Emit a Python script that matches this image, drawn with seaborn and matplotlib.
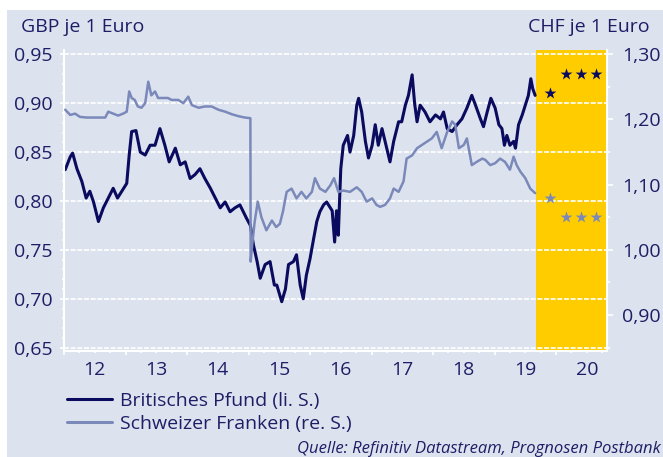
import matplotlib
matplotlib.use("Agg")
import matplotlib.pyplot as plt
from matplotlib.patches import Rectangle
from matplotlib.ticker import FixedLocator, FuncFormatter
import seaborn as sns

# GBP per 1 Euro (left axis), decimal years
gbp_t = [2012.02, 2012.10, 2012.14, 2012.21, 2012.29, 2012.36, 2012.42, 2012.48, 2012.56,
         2012.64, 2012.72, 2012.80, 2012.87, 2012.94, 2013.02, 2013.06, 2013.10, 2013.17,
         2013.24, 2013.32, 2013.40, 2013.48, 2013.56, 2013.64, 2013.71, 2013.81, 2013.89,
         2013.97, 2014.05, 2014.13, 2014.21, 2014.29, 2014.38, 2014.46, 2014.54, 2014.62,
         2014.70, 2014.78, 2014.86, 2014.97, 2015.03, 2015.08, 2015.14, 2015.19, 2015.27,
         2015.35, 2015.42, 2015.46, 2015.54, 2015.60, 2015.65, 2015.73, 2015.78, 2015.84,
         2015.89, 2015.94, 2016.00, 2016.06, 2016.11, 2016.16, 2016.22, 2016.27, 2016.33,
         2016.36, 2016.40, 2016.43, 2016.46, 2016.48, 2016.50, 2016.54, 2016.61, 2016.65,
         2016.71, 2016.76, 2016.79, 2016.84, 2016.90, 2016.95, 2017.01, 2017.06, 2017.11,
         2017.17, 2017.22, 2017.30, 2017.36, 2017.44, 2017.49, 2017.55, 2017.60, 2017.66,
         2017.70, 2017.74, 2017.79, 2017.87, 2017.95, 2018.04, 2018.12, 2018.17, 2018.23,
         2018.31, 2018.39, 2018.47, 2018.55, 2018.63, 2018.69, 2018.77, 2018.82, 2018.88,
         2018.94, 2019.01, 2019.07, 2019.12, 2019.16, 2019.20, 2019.25, 2019.31, 2019.34,
         2019.39, 2019.45, 2019.50, 2019.55, 2019.59, 2019.62, 2019.66]
gbp_v = [0.832, 0.845, 0.849, 0.833, 0.820, 0.803, 0.810, 0.799, 0.779,
         0.793, 0.803, 0.813, 0.803, 0.810, 0.818, 0.847, 0.871, 0.872,
         0.850, 0.847, 0.857, 0.857, 0.874, 0.857, 0.840, 0.854, 0.837,
         0.840, 0.823, 0.827, 0.833, 0.823, 0.813, 0.803, 0.793, 0.799,
         0.789, 0.793, 0.796, 0.782, 0.775, 0.755, 0.738, 0.721, 0.735,
         0.738, 0.714, 0.714, 0.697, 0.710, 0.735, 0.738, 0.745, 0.714,
         0.700, 0.724, 0.741, 0.762, 0.779, 0.789, 0.796, 0.799, 0.793,
         0.790, 0.758, 0.790, 0.765, 0.800, 0.833, 0.857, 0.867, 0.850,
         0.867, 0.898, 0.905, 0.891, 0.861, 0.844, 0.857, 0.878, 0.857,
         0.874, 0.861, 0.840, 0.861, 0.881, 0.881, 0.898, 0.908, 0.929,
         0.900, 0.881, 0.898, 0.891, 0.881, 0.888, 0.884, 0.891, 0.874,
         0.871, 0.878, 0.884, 0.895, 0.908, 0.898, 0.884, 0.876, 0.891,
         0.905, 0.895, 0.878, 0.874, 0.857, 0.867, 0.857, 0.861, 0.854,
         0.878, 0.888, 0.898, 0.908, 0.925, 0.915, 0.908]

# CHF per 1 Euro (right axis)
chf_t = [2012.02, 2012.10, 2012.18, 2012.26, 2012.37, 2012.50, 2012.67, 2012.72, 2012.80,
         2012.88, 2012.96, 2013.02, 2013.06, 2013.10, 2013.15, 2013.20, 2013.26, 2013.32,
         2013.37, 2013.42, 2013.48, 2013.53, 2013.61, 2013.69, 2013.75, 2013.86, 2013.94,
         2014.02, 2014.08, 2014.19, 2014.29, 2014.40, 2014.51, 2014.62, 2014.73, 2014.84,
         2014.94, 2015.03, 2015.035, 2015.06, 2015.10, 2015.15, 2015.21, 2015.29, 2015.38,
         2015.45, 2015.51, 2015.56, 2015.62, 2015.70, 2015.78, 2015.86, 2015.94, 2016.03,
         2016.08, 2016.16, 2016.25, 2016.33, 2016.39, 2016.46, 2016.54, 2016.65, 2016.76,
         2016.84, 2016.92, 2017.01, 2017.08, 2017.14, 2017.22, 2017.30, 2017.36, 2017.44,
         2017.52, 2017.57, 2017.66, 2017.74, 2017.82, 2017.90, 2017.98, 2018.06, 2018.14,
         2018.23, 2018.31, 2018.36, 2018.42, 2018.50, 2018.55, 2018.63, 2018.71, 2018.80,
         2018.85, 2018.93, 2019.01, 2019.09, 2019.17, 2019.25, 2019.31, 2019.36, 2019.42,
         2019.50, 2019.58, 2019.66]
chf_v = [1.215, 1.207, 1.209, 1.204, 1.203, 1.203, 1.203, 1.212, 1.209,
         1.206, 1.209, 1.212, 1.243, 1.233, 1.230, 1.220, 1.218, 1.225,
         1.258, 1.237, 1.243, 1.233, 1.233, 1.233, 1.230, 1.230, 1.225,
         1.235, 1.222, 1.218, 1.220, 1.220, 1.215, 1.212, 1.208, 1.205,
         1.203, 1.202, 0.982, 1.008, 1.043, 1.074, 1.050, 1.030, 1.045,
         1.035, 1.040, 1.059, 1.089, 1.094, 1.079, 1.089, 1.079, 1.089,
         1.110, 1.094, 1.089, 1.099, 1.110, 1.089, 1.091, 1.089, 1.096,
         1.089, 1.074, 1.079, 1.069, 1.066, 1.069, 1.079, 1.094, 1.089,
         1.105, 1.140, 1.145, 1.156, 1.161, 1.166, 1.171, 1.181, 1.156,
         1.181, 1.197, 1.192, 1.156, 1.161, 1.171, 1.130, 1.135, 1.140,
         1.138, 1.130, 1.133, 1.140, 1.135, 1.123, 1.143, 1.130, 1.120,
         1.110, 1.094, 1.087]

# forecasts (stars)
fc_t = [2019.90, 2020.16, 2020.41, 2020.65]
gbp_fc = [0.91, 0.93, 0.93, 0.93]
chf_fc = [1.08, 1.05, 1.05, 1.05]

forecast_start = 2019.68
years = list(range(2012, 2021))
year_labels = ["12", "13", "14", "15", "16", "17", "18", "19", "20"]

BG = "#DDE3EE"
TXT = "#1E1E66"
GBP_C = "#0A0A5F"
CHF_C = "#7A89BA"
YELLOW = "#FFCC00"

sns.set_theme(style="white")
plt.rcParams["font.family"] = ["Open Sans", "DejaVu Sans"]

W, H = 663, 457
fig = plt.figure(figsize=(W / 100, H / 100), dpi=100)
fig.patch.set_facecolor("white")
fig.patches.append(Rectangle((7 / W, 0), 1, 1 - 10 / H, transform=fig.transFigure,
                             facecolor=BG, edgecolor="none", zorder=-10))

ax1 = fig.add_axes([64 / W, 1 - 350.7 / H, (606.5 - 64) / W, (350.7 - 50) / H])
ax1.set_facecolor(BG)
xmax = 2020.82
ax1.set_xlim(2012.0, xmax)
ax1.set_ylim(0.6469, 0.9544)
ax1.axvspan(forecast_start, xmax, color=YELLOW, lw=0, zorder=0.2)
ax1.yaxis.grid(True, color="white", ls=(0, (3, 1)), lw=1.2)
ax1.xaxis.grid(False)

sns.lineplot(x=gbp_t, y=gbp_v, ax=ax1, color=GBP_C, lw=2.2, label="Britisches Pfund (li. S.)",
             legend=False)
sns.scatterplot(x=fc_t, y=gbp_fc, ax=ax1, marker="*", s=80, color=GBP_C, linewidth=0,
                legend=False)

ax2 = ax1.twinx()
ax2.set_ylim(0.85 + 1.5 * (0.6469 - 0.65), 0.85 + 1.5 * (0.9544 - 0.65))
sns.lineplot(x=chf_t, y=chf_v, ax=ax2, color=CHF_C, lw=1.8, label="Schweizer Franken (re. S.)",
             legend=False)
sns.scatterplot(x=fc_t, y=chf_fc, ax=ax2, marker="*", s=80, color=CHF_C, linewidth=0,
                legend=False)
ax2.grid(False)

fmt = FuncFormatter(lambda v, p: f"{v:.2f}".replace(".", ","))

ax1.yaxis.set_major_locator(FixedLocator([0.65, 0.70, 0.75, 0.80, 0.85, 0.90, 0.95]))
ax1.yaxis.set_minor_locator(FixedLocator([0.65 + 0.01 * i for i in range(31)]))
ax1.yaxis.set_major_formatter(fmt)
ax2.yaxis.set_major_locator(FixedLocator([0.90, 1.00, 1.10, 1.20, 1.30]))
ax2.yaxis.set_minor_locator(FixedLocator([0.85, 0.95, 1.05, 1.15, 1.25]))
ax2.yaxis.set_major_formatter(fmt)

ax1.set_xticks(years, [""] * len(years))
quarters = [y + q for y in years for q in (0.25, 0.5, 0.75) if y + q < xmax]
qlabels = [year_labels[years.index(int(q))] if abs(q % 1 - 0.5) < 1e-6 else "" for q in quarters]
ax1.set_xticks(quarters, qlabels, minor=True)

for ax in (ax1, ax2):
    for s in ax.spines.values():
        s.set_visible(False)
ax1.spines["left"].set_visible(True)
ax1.spines["bottom"].set_visible(True)
ax2.spines["right"].set_visible(True)
for s in (ax1.spines["left"], ax1.spines["bottom"], ax2.spines["right"]):
    s.set_color("white")
    s.set_linewidth(1.5)

ax1.tick_params(axis="y", which="major", left=True, direction="out", length=3, width=1.2,
                color="white", labelsize=14, labelcolor=TXT, pad=5)
ax1.tick_params(axis="y", which="minor", left=True, direction="out", length=1.5, width=1.2,
                color="white")
ax1.tick_params(axis="x", which="major", bottom=True, direction="out", length=3, width=1.2,
                color="white")
ax1.tick_params(axis="x", which="minor", bottom=True, direction="out", length=1.5, width=1.2,
                color="white", labelsize=14, labelcolor=TXT, pad=6)
ax2.tick_params(axis="y", which="major", right=True, direction="out", length=4, width=1.2,
                color="white", labelsize=14, labelcolor=TXT, pad=7)
ax2.tick_params(axis="y", which="minor", right=True, direction="out", length=2, width=1.2,
                color="white")
ax1.set_xlabel("")
ax1.set_ylabel("")
ax2.set_ylabel("")

fig.text(21 / W, 1 - 32 / H, "GBP je 1 Euro", color=TXT, fontsize=14, va="baseline")
fig.text(650 / W, 1 - 32 / H, "CHF je 1 Euro", color=TXT, fontsize=14, va="baseline", ha="right")

h1, l1 = ax1.get_legend_handles_labels()
h2, l2 = ax2.get_legend_handles_labels()
leg = fig.legend(h1 + h2, l1 + l2, loc="upper left", bbox_to_anchor=(67 / W, 1 - 392 / H),
                 frameon=False, fontsize=14, labelcolor=TXT, handlelength=2.3,
                 handletextpad=0.4, borderpad=0, borderaxespad=0, labelspacing=0.25)
for line in leg.get_lines():
    line.set_linewidth(2.2)

fig.text(661 / W, 1 - 453 / H, "Quelle: Refinitiv Datastream, Prognosen Postbank",
         color=TXT, fontsize=12, style="italic", ha="right", va="baseline")

fig.savefig("out.png", dpi=100, facecolor=fig.get_facecolor())
